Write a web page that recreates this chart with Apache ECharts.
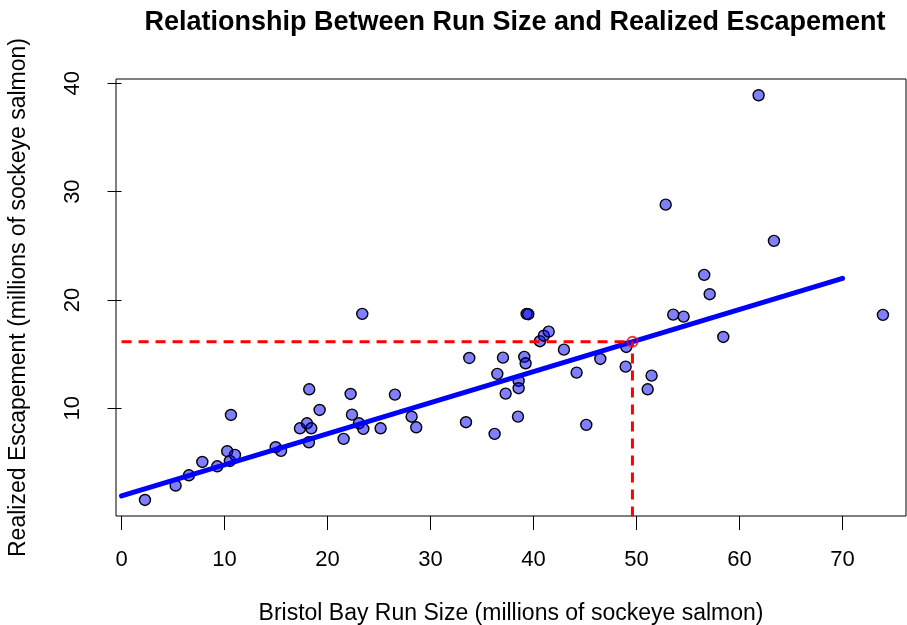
<!DOCTYPE html>
<html>
<head>
<meta charset="utf-8">
<script src="https://cdn.jsdelivr.net/npm/echarts@6/dist/echarts.min.js"></script>
<style>
  html, body { margin: 0; padding: 0; background: #fff; }
  #chart { width: 907px; height: 625px; }
</style>
</head>
<body>
<div id="chart"></div>
<script>
// Bristol Bay sockeye: total run vs. realized escapement (millions of fish)
const runSize = [
  2.27, 5.25, 6.54, 7.84, 9.29, 10.26, 10.52, 10.62, 11.01, 14.96,
  15.48, 17.32, 18.00, 18.19, 18.22, 18.42, 19.23, 21.56, 22.24, 22.37,
  23.05, 23.37, 23.47, 25.15, 26.54, 28.16, 28.61, 33.44, 33.76, 36.22,
  36.48, 37.03, 37.29, 38.49, 38.55, 38.55, 39.10, 39.23, 39.33, 39.49,
  40.62, 41.00, 41.47, 42.95, 44.18, 45.12, 46.48, 48.94, 49.00, 51.08,
  51.46, 52.83, 53.56, 54.57, 56.57, 57.10, 58.42, 61.85, 63.34, 73.92
];
const escapement = [
  1.53, 2.86, 3.81, 5.04, 4.64, 6.03, 5.13, 9.38, 5.69, 6.40,
  6.06, 8.15, 8.61, 6.86, 11.75, 8.15, 9.84, 7.17, 11.32, 9.41,
  8.61, 18.71, 8.09, 8.15, 11.26, 9.22, 8.24, 8.71, 14.64, 7.63,
  13.17, 14.67, 11.35, 9.23, 12.52, 11.85, 14.74, 14.15, 18.71, 18.68,
  16.19, 16.70, 17.07, 15.41, 13.29, 8.46, 14.55, 13.84, 15.66, 11.75,
  13.01, 28.80, 18.64, 18.46, 22.31, 20.53, 16.58, 38.90, 25.45, 18.62
];

// fitted linear trend, drawn between its two end points
const fitRun = [0, 70];
const fitEscapement = [1.9, 22.0];

// highlighted run size and its expected escapement on the trend
const forecastRun = 49.6;
const forecastEscapement = 16.15;

// tick labels
const xTicks = [0, 10, 20, 30, 40, 50, 60, 70];
const yTicks = [10, 20, 30, 40];

const FONT = '"Liberation Sans", Arial, Helvetica, sans-serif';

const points = runSize.map((r, i) => [r, escapement[i]]);
const fitLine = fitRun.map((r, i) => [r, fitEscapement[i]]);
const guideH = [[0, forecastEscapement], [forecastRun, forecastEscapement]];
const guideV = [[forecastRun, 0], [forecastRun, forecastEscapement]];

const chart = echarts.init(document.getElementById('chart'), null, { renderer: 'canvas' });

chart.setOption({
  animation: false,
  backgroundColor: '#ffffff',
  graphic: [{
    type: 'text',
    x: 515,
    y: 23,
    style: {
      text: 'Relationship Between Run Size and Realized Escapement',
      font: 'bold 27px ' + FONT,
      fill: '#000',
      textAlign: 'center',
      textVerticalAlign: 'middle'
    }
  }],
  grid: {
    left: 116, right: 1, top: 79, bottom: 109,
    outerBoundsMode: 'none',
    containLabel: false,
    show: true,
    borderColor: '#000',
    borderWidth: 1,
    backgroundColor: 'transparent'
  },
  xAxis: {
    type: 'value',
    min: -0.54,
    max: 76.16,
    name: 'Bristol Bay Run Size (millions of sockeye salmon)',
    nameLocation: 'middle',
    nameGap: 86,
    nameTextStyle: { fontFamily: FONT, fontSize: 23, color: '#000' },
    axisLine: { show: false },
    splitLine: { show: false },
    axisTick: {
      show: true, inside: false, length: 14,
      customValues: xTicks,
      lineStyle: { color: '#000', width: 1 }
    },
    axisLabel: {
      customValues: xTicks,
      margin: 33,
      fontFamily: FONT, fontSize: 22, color: '#000'
    }
  },
  yAxis: {
    type: 'value',
    min: 0.05,
    max: 40.4,
    name: 'Realized Escapement (millions of sockeye salmon)',
    nameLocation: 'middle',
    nameGap: 86,
    nameTextStyle: { fontFamily: FONT, fontSize: 23, color: '#000' },
    axisLine: { show: false },
    splitLine: { show: false },
    axisTick: {
      show: true, inside: false, length: 14,
      customValues: yTicks,
      lineStyle: { color: '#000', width: 1 }
    },
    axisLabel: {
      customValues: yTicks,
      rotate: 90,
      margin: 32,
      fontFamily: FONT, fontSize: 22, color: '#000'
    }
  },
  series: [
    {
      name: 'Years',
      type: 'scatter',
      data: points,
      symbol: 'circle',
      symbolSize: 11,
      z: 2,
      itemStyle: {
        color: 'rgba(0,0,255,0.5)',
        borderColor: '#000',
        borderWidth: 1.4,
        opacity: 1
      }
    },
    {
      name: 'Trend',
      type: 'line',
      data: fitLine,
      showSymbol: false,
      symbol: 'none',
      z: 3,
      lineStyle: { color: '#0000ff', width: 5, cap: 'round' }
    },
    {
      name: 'Guide H',
      type: 'line',
      data: guideH,
      symbol: 'none',
      z: 4,
      lineStyle: { color: '#ff0000', width: 3, type: [10, 7], cap: 'butt' }
    },
    {
      name: 'Guide V',
      type: 'line',
      data: guideV,
      symbol: 'none',
      z: 4,
      lineStyle: { color: '#ff0000', width: 3, type: [10, 7], cap: 'butt' }
    },
    {
      name: 'Forecast',
      type: 'scatter',
      data: [[forecastRun, forecastEscapement]],
      symbol: 'circle',
      symbolSize: 10,
      z: 5,
      itemStyle: {
        color: 'rgba(0,0,0,0)',
        borderColor: '#ff0000',
        borderWidth: 2
      }
    }
  ]
});
</script>
</body>
</html>
